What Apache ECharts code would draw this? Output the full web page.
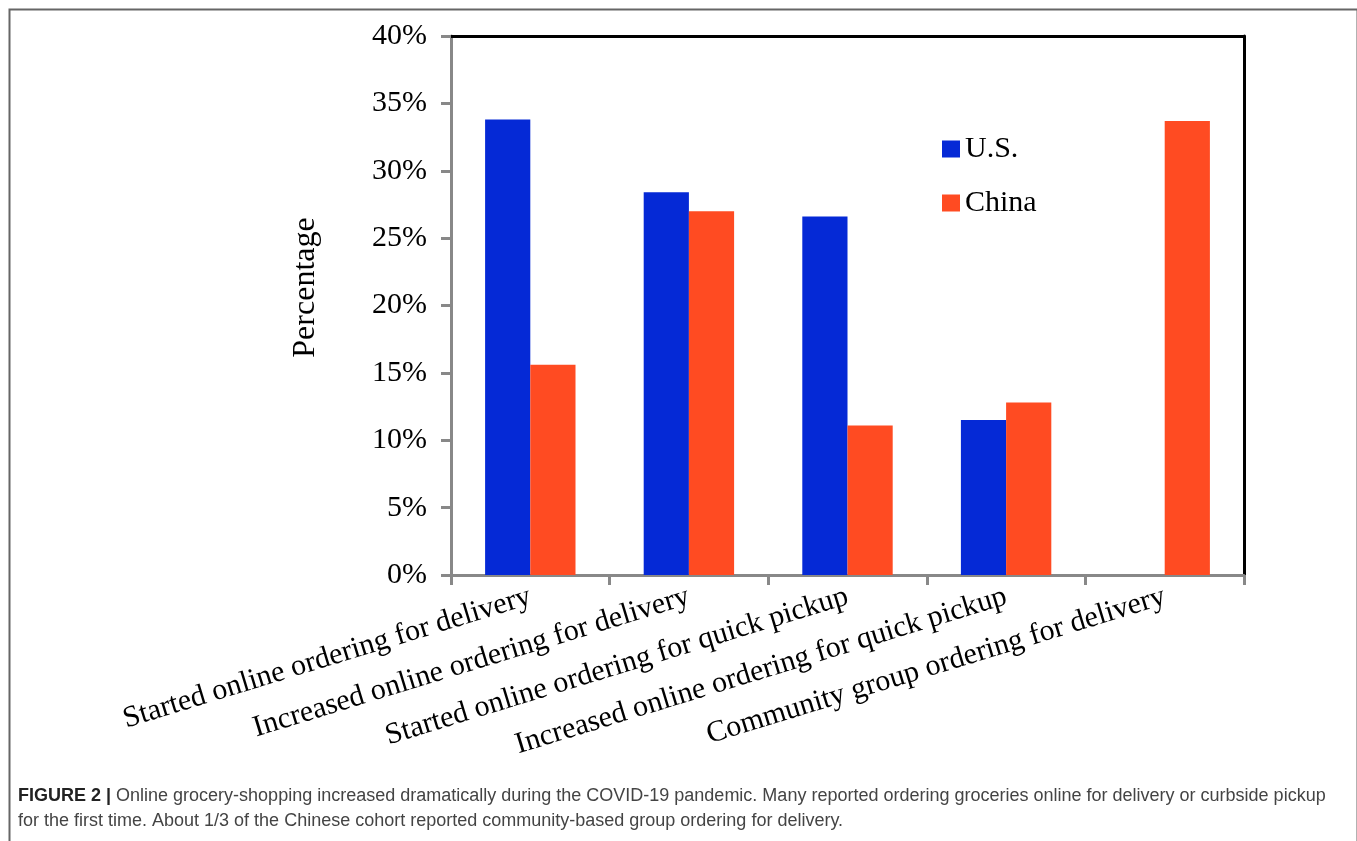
<!DOCTYPE html>
<html>
<head>
<meta charset="utf-8">
<script src="https://cdn.jsdelivr.net/npm/echarts@6/dist/echarts.min.js"></script>
<style>html,body{margin:0;padding:0;background:#fff;}#chart{width:1357px;height:841px;}</style>
</head>
<body>
<div id="chart"></div>
<script>
const categories = [
  "Started online ordering for delivery",
  "Increased online ordering for delivery",
  "Started online ordering for quick pickup",
  "Increased online ordering for quick pickup",
  "Community group ordering for delivery"
];
const usValues = [33.8, 28.4, 26.6, 11.5, null];
const chinaValues = [15.6, 27.0, 11.1, 12.8, 33.7];
const seriesNames = ["U.S.", "China"];
const yMin = 0, yMax = 40, yInterval = 5;
const yAxisTitle = "Percentage";
const captionBold = "FIGURE 2 |";
const captionLine1 = " Online grocery-shopping increased dramatically during the COVID-19 pandemic. Many reported ordering groceries online for delivery or curbside pickup";
const captionLine2 = "for the first time. About 1/3 of the Chinese cohort reported community-based group ordering for delivery.";

const serif = "'Liberation Serif', 'Times New Roman', serif";
const sans = "'Liberation Sans', Arial, sans-serif";
const chart = echarts.init(document.getElementById('chart'), null, {renderer: 'canvas'});
chart.setOption({
  animation: false,
  backgroundColor: '#fff',
  grid: {left: 451, top: 36, right: 113, bottom: 266, containLabel: false},
  legend: {
    orient: 'vertical', left: 942, top: 134, padding: 0, itemWidth: 18, itemHeight: 17, itemGap: 24,
    icon: 'rect',
    textStyle: {fontFamily: serif, fontSize: 30, color: '#000'},
    data: seriesNames
  },
  xAxis: [{
    type: 'category', data: categories, position: 'bottom',
    axisLine: {onZero: false, lineStyle: {color: '#888', width: 3}},
    axisTick: {show: true, length: 10, lineStyle: {color: '#888', width: 3}},
    axisLabel: {interval: 0, rotate: 17, fontFamily: serif, fontSize: 30, color: '#000', margin: 21}
  }, {
    type: 'category', data: categories, position: 'top',
    axisLine: {show: true, onZero: false, lineStyle: {color: '#000', width: 3}},
    axisTick: {show: false}, axisLabel: {show: false}
  }],
  yAxis: [{
    type: 'value', min: yMin, max: yMax, interval: yInterval,
    name: yAxisTitle, nameLocation: 'middle', nameGap: 129, nameRotate: 90,
    nameTextStyle: {fontFamily: serif, fontSize: 32, color: '#000', padding: [0, 0, 0, 36]},
    axisLine: {show: true, onZero: false, lineStyle: {color: '#888', width: 3}},
    axisTick: {show: true, length: 10, lineStyle: {color: '#888', width: 3}},
    splitLine: {show: false},
    axisLabel: {formatter: '{value}%', fontFamily: serif, fontSize: 30, color: '#000', margin: 24}
  }, {
    type: 'value', min: yMin, max: yMax, interval: yInterval, position: 'right',
    axisLine: {show: true, onZero: false, lineStyle: {color: '#000', width: 3}},
    axisTick: {show: false}, axisLabel: {show: false}, splitLine: {show: false}
  }],
  series: [{
    name: seriesNames[0], type: 'bar', data: usValues, barGap: '0%', barCategoryGap: '43%',
    itemStyle: {color: '#0529D6'}
  }, {
    name: seriesNames[1], type: 'bar', data: chinaValues, barGap: '0%', barCategoryGap: '43%',
    itemStyle: {color: '#FF4B22'}
  }],
  graphic: [
    {type: 'rect', left: 7, top: 7, shape: {width: 1348, height: 840}, style: {fill: 'none', stroke: '#666', lineWidth: 2}, silent: true},
    {type: 'text', left: 18, top: 787, style: {
      text: '{b|' + captionBold + '}' + captionLine1,
      rich: {b: {fontFamily: sans, fontWeight: 'bold', fontSize: 18, fill: '#222'}},
      fontFamily: sans, fontSize: 18, fill: '#444'
    }},
    {type: 'text', left: 18, top: 812, style: {
      text: captionLine2, fontFamily: sans, fontSize: 18, fill: '#444'
    }}
  ]
});
</script>
</body>
</html>
